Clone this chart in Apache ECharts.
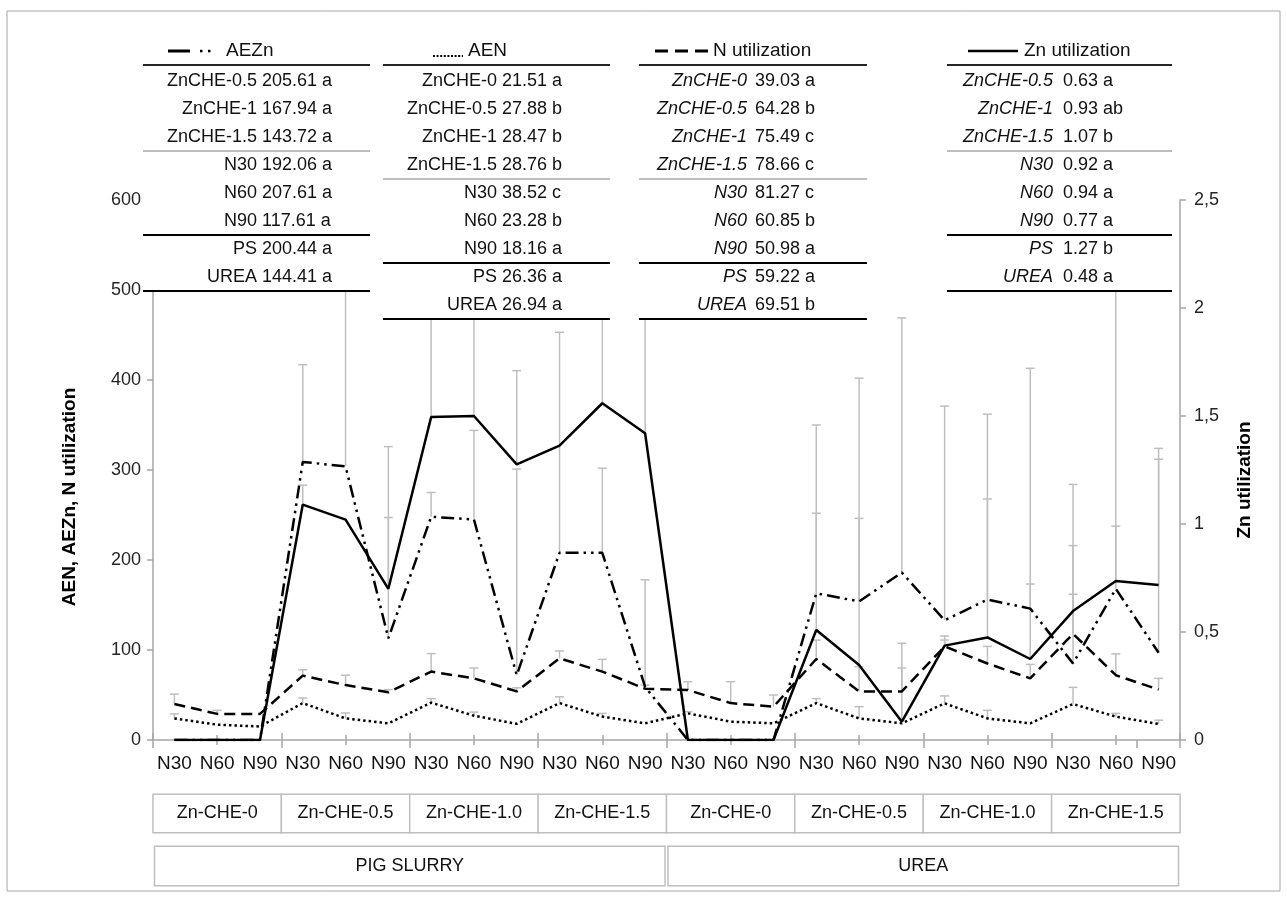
<!DOCTYPE html>
<html>
<head>
<meta charset="utf-8">
<script src="https://cdn.jsdelivr.net/npm/echarts@6/dist/echarts.min.js"></script>
<style>
  html, body { margin: 0; padding: 0; background: #fff; }
  #chart { width: 1287px; height: 897px; }
</style>
</head>
<body>
<div id="chart"></div>
<script>
// categories
const nLevels   = ["N30","N60","N90","N30","N60","N90","N30","N60","N90","N30","N60","N90",
                   "N30","N60","N90","N30","N60","N90","N30","N60","N90","N30","N60","N90"];
const znGroups  = ["Zn-CHE-0","Zn-CHE-0.5","Zn-CHE-1.0","Zn-CHE-1.5","Zn-CHE-0","Zn-CHE-0.5","Zn-CHE-1.0","Zn-CHE-1.5"];
const sources   = ["PIG SLURRY","UREA"];

// series (left axis: AEZn, AEN, N utilization; right axis: Zn utilization)
const aezn  = [0,0,0, 309,304,113, 248,245,72, 208,208,59,  0,0,0, 163,154,186, 133,156,146, 85,168,97];
const aen   = [24,17,15, 41,24,18.5, 41.5,27,18, 41,26,18.5, 29.6,20.4,18.5, 41,24,18.5, 40.7,24,18.5, 40,26,17.8];
const nUtil = [40,29,29, 71.5,61,53, 76,68.5,54, 90.7,76,57, 55.5,41,37, 90,54,54, 104,85,68.5, 118,72,56];
const znUtil= [0,0,0, 1.09,1.02,0.70, 1.495,1.50,1.276, 1.363,1.559,1.42, 0,0,0, 0.509,0.347,0.085, 0.437,0.475,0.375, 0.597,0.736,0.718];

// upper ends of the error bars (null = none)
const aeznTop  = [null,null,null, 417,560,326, 275,344,301, 453,302,178, null,null,null, 350,402,469, 371,362,413, 284,560,312];
const aenTop   = [29,null,null, 46.7,30,null, 46,31,null, 48,29.6,null, 31.5,null,null, 46,37,null, 49,33,null, 58.5,29.6,22];
const nUtilTop = [51,33,null, 78,72,56, 96,80,58, 99,89.6,61, 64.8,64.8,50, 111,81.5,80, 115.6,104,84, 162,95.6,68.5];
const znTop    = [null,null,null, 1.18,null,1.03, 2.3,2.2,1.71, null,2.1,2.2, null,null,null, 1.05,1.026,0.448, 0.463,1.116,0.722, 0.9,0.99,1.35];

// statistics tables
const aeznLabels = ["ZnCHE-0.5","ZnCHE-1","ZnCHE-1.5","N30","N60","N90","PS","UREA"];
const aeznStats  = ["205.61 a","167.94 a","143.72 a","192.06 a","207.61 a","117.61 a","200.44 a","144.41 a"];
const aenLabels  = ["ZnCHE-0","ZnCHE-0.5","ZnCHE-1","ZnCHE-1.5","N30","N60","N90","PS","UREA"];
const aenStats   = ["21.51 a","27.88 b","28.47 b","28.76 b","38.52 c","23.28 b","18.16 a","26.36 a","26.94 a"];
const nutLabels  = ["ZnCHE-0","ZnCHE-0.5","ZnCHE-1","ZnCHE-1.5","N30","N60","N90","PS","UREA"];
const nutStats   = ["39.03 a","64.28 b","75.49 c","78.66 c","81.27 c","60.85 b","50.98 a","59.22 a","69.51 b"];
const znutLabels = ["ZnCHE-0.5","ZnCHE-1","ZnCHE-1.5","N30","N60","N90","PS","UREA"];
const znutStats  = ["0.63 a","0.93 ab","1.07 b","0.92 a","0.94 a","0.77 a","1.27 b","0.48 a"];

const FONT = "'Liberation Sans', Arial, sans-serif";
const GREY = "#bfbfbf";
const AXIS = "#a6a6a6";
const INK  = "#111";

const chart = echarts.init(document.getElementById("chart"), null, { renderer: "canvas" });

function errSeries(name, vals, tops, yAxisIndex) {
  const data = [];
  tops.forEach((t, i) => { if (t != null) data.push([i, vals[i], t]); });
  return {
    name, type: "custom", yAxisIndex, z: 1, clip: true, silent: true,
    encode: { x: 0, y: [1, 2] },
    data,
    renderItem: (params, api) => {
      const p0 = api.coord([api.value(0), api.value(1)]);
      const p1 = api.coord([api.value(0), api.value(2)]);
      const st = { stroke: GREY, lineWidth: 1.5 };
      return {
        type: "group",
        children: [
          { type: "line", shape: { x1: p0[0], y1: p0[1], x2: p1[0], y2: p1[1] }, style: st },
          { type: "line", shape: { x1: p1[0] - 4.5, y1: p1[1], x2: p1[0] + 4.5, y2: p1[1] }, style: st },
        ],
      };
    },
  };
}

// table layouts
const tables = [
  { x0: 143, x1: 370, lr: 257, vl: 262, sym: "aezn", sx: 168, tx: 226, name: "AEZn",
    labels: aeznLabels, stats: aeznStats, groups: [3, 3, 2], italic: false },
  { x0: 383, x1: 610, lr: 497, vl: 502, sym: "aen", sx: 433, tx: 468, name: "AEN",
    labels: aenLabels, stats: aenStats, groups: [4, 3, 2], italic: false },
  { x0: 639, x1: 867, lr: 747, vl: 755, sym: "nut", sx: 655, tx: 713, name: "N utilization",
    labels: nutLabels, stats: nutStats, groups: [4, 3, 2], italic: true },
  { x0: 947, x1: 1172, lr: 1053, vl: 1063, sym: "znut", sx: 968, tx: 1024, name: "Zn utilization",
    labels: znutLabels, stats: znutStats, groups: [3, 3, 2], italic: true },
];

const ROW0 = 81, ROWH = 28, HEADY = 51;
const graphics = [
  { type: "rect", z: 0, shape: { x: 7, y: 11, width: 1273, height: 880 },
    style: { fill: "none", stroke: "#a6a6a6", lineWidth: 1 } },
];

function hline(x0, x1, y, w, c) {
  return { type: "line", z: 102, shape: { x1: x0, y1: y, x2: x1, y2: y }, style: { stroke: c, lineWidth: w } };
}

tables.forEach((t) => {
  const n = t.labels.length;
  const bottom = ROW0 + ROWH * (n - 0.5);
  graphics.push({ type: "rect", z: 100, shape: { x: t.x0, y: 28, width: t.x1 - t.x0, height: bottom - 28 },
    style: { fill: "#fff" } });
  // header symbol
  const sy = HEADY;
  if (t.sym === "aezn") {
    graphics.push({ type: "line", z: 102, shape: { x1: t.sx, y1: sy, x2: t.sx + 22, y2: sy }, style: { stroke: "#000", lineWidth: 3 } });
    graphics.push({ type: "rect", z: 102, shape: { x: t.sx + 32, y: sy - 1.2, width: 2.5, height: 2.5 }, style: { fill: "#000" } });
    graphics.push({ type: "rect", z: 102, shape: { x: t.sx + 40, y: sy - 1.2, width: 2.5, height: 2.5 }, style: { fill: "#000" } });
  } else if (t.sym === "aen") {
    graphics.push({ type: "line", z: 102, shape: { x1: t.sx, y1: sy + 5, x2: t.sx + 30, y2: sy + 5 },
      style: { stroke: "#000", lineWidth: 2, lineDash: [2, 1.6] } });
  } else if (t.sym === "nut") {
    graphics.push({ type: "line", z: 102, shape: { x1: t.sx, y1: sy, x2: t.sx + 53, y2: sy },
      style: { stroke: "#000", lineWidth: 3, lineDash: [13, 7] } });
  } else {
    graphics.push({ type: "line", z: 102, shape: { x1: t.sx, y1: sy, x2: t.sx + 50, y2: sy }, style: { stroke: "#000", lineWidth: 2.5 } });
  }
  graphics.push({ type: "text", z: 102, x: t.tx, y: HEADY,
    style: { text: t.name, font: "19px " + FONT, fill: INK, textVerticalAlign: "middle" } });
  graphics.push(hline(t.x0, t.x1, ROW0 - ROWH / 2 - 2, 2, "#262626"));
  // rows
  t.labels.forEach((lab, i) => {
    const y = ROW0 + ROWH * i;
    graphics.push({ type: "text", z: 102, x: t.lr, y,
      style: { text: lab, font: (t.italic ? "italic " : "") + "18px " + FONT, fill: INK,
               textAlign: "right", textVerticalAlign: "middle" } });
    graphics.push({ type: "text", z: 102, x: t.vl, y,
      style: { text: t.stats[i], font: "18px " + FONT, fill: INK, textVerticalAlign: "middle" } });
  });
  const g1 = t.groups[0], g2 = t.groups[0] + t.groups[1];
  graphics.push(hline(t.x0, t.x1, ROW0 + ROWH * (g1 - 0.5), 1, "#7f7f7f"));
  graphics.push(hline(t.x0, t.x1, ROW0 + ROWH * (g2 - 0.5), 2, "#000"));
  graphics.push(hline(t.x0, t.x1, bottom, 2, "#000"));
});

// axis titles
graphics.push({ type: "text", z: 102, x: 70, y: 497, rotation: Math.PI / 2,
  style: { text: "AEN, AEZn, N utilization", font: "bold 19px " + FONT, fill: "#000",
           textAlign: "center", textVerticalAlign: "middle" } });
graphics.push({ type: "text", z: 102, x: 1245, y: 480, rotation: Math.PI / 2,
  style: { text: "Zn utilization", font: "bold 19px " + FONT, fill: "#000",
           textAlign: "center", textVerticalAlign: "middle" } });

const baseX = {
  type: "category", data: nLevels, position: "bottom", gridIndex: 0,
  axisLine: { show: false }, axisLabel: { show: false }, axisTick: { show: false },
  splitLine: { show: false },
};

chart.setOption({
  animation: false,
  backgroundColor: "#fff",
  textStyle: { fontFamily: FONT },
  grid: { left: 153, top: 200, width: 1027, height: 540 },
  xAxis: [
    { ...baseX,
      axisLine: { show: true, lineStyle: { color: AXIS, width: 1.5 } },
      axisTick: { show: true, interval: 2, length: 8, lineStyle: { color: AXIS, width: 1.5 } },
      axisLabel: { show: true, interval: 0, margin: 14, fontSize: 19, color: INK } },
    { ...baseX,
      axisTick: { show: true, inside: true, interval: 2, length: 7, lineStyle: { color: AXIS, width: 1.5 } } },
    { ...baseX,
      axisTick: { show: true, alignWithLabel: true, interval: (i) => i % 3 === 1, length: 5,
                  lineStyle: { color: AXIS, width: 1.5 } } },
    { ...baseX,
      axisTick: { show: true, inside: true, alignWithLabel: true, interval: (i) => i % 3 === 1, length: 5,
                  lineStyle: { color: AXIS, width: 1.5 } } },
    { ...baseX, data: znGroups,
      axisLabel: { show: true, interval: 0, margin: 55, fontSize: 18, color: INK,
                   width: 127, height: 37, lineHeight: 37, align: "center",
                   borderColor: GREY, borderWidth: 1.5, backgroundColor: "#fff" } },
    { ...baseX, data: sources,
      axisLabel: { show: true, interval: 0, margin: 107, fontSize: 18, color: INK,
                   width: 509, height: 38, lineHeight: 38, align: "center",
                   borderColor: GREY, borderWidth: 1.5, backgroundColor: "#fff" } },
  ],
  yAxis: [
    { type: "value", min: 0, max: 600, interval: 100, position: "left",
      axisLine: { show: true, lineStyle: { color: AXIS, width: 1.5 } },
      axisTick: { show: true, length: 6, lineStyle: { color: AXIS, width: 1.5 } },
      axisLabel: { fontSize: 18, color: "#262626", margin: 12 },
      splitLine: { show: false } },
    { type: "value", min: 0, max: 2.5, interval: 0.5, position: "right",
      axisLine: { show: true, lineStyle: { color: AXIS, width: 1.5 } },
      axisTick: { show: true, length: 6, lineStyle: { color: AXIS, width: 1.5 } },
      axisLabel: { fontSize: 18, color: "#262626", margin: 14,
                   formatter: (v) => String(v).replace(".", ",") },
      splitLine: { show: false } },
  ],
  series: [
    errSeries("AEZn err", aezn, aeznTop, 0),
    errSeries("AEN err", aen, aenTop, 0),
    errSeries("N err", nUtil, nUtilTop, 0),
    errSeries("Zn err", znUtil, znTop, 1),
    { name: "AEZn", type: "line", data: aezn, yAxisIndex: 0, symbol: "none", z: 3,
      lineStyle: { color: "#000", width: 2.5, type: [13, 5, 2.5, 5, 2.5, 5] } },
    { name: "AEN", type: "line", data: aen, yAxisIndex: 0, symbol: "none", z: 3,
      lineStyle: { color: "#000", width: 2.5, type: [2.5, 3] } },
    { name: "N utilization", type: "line", data: nUtil, yAxisIndex: 0, symbol: "none", z: 3,
      lineStyle: { color: "#000", width: 2.5, type: [11, 6] } },
    { name: "Zn utilization", type: "line", data: znUtil, yAxisIndex: 1, symbol: "none", z: 3,
      lineStyle: { color: "#000", width: 2.5 } },
  ],
  graphic: { elements: graphics },
});
</script>
</body>
</html>
